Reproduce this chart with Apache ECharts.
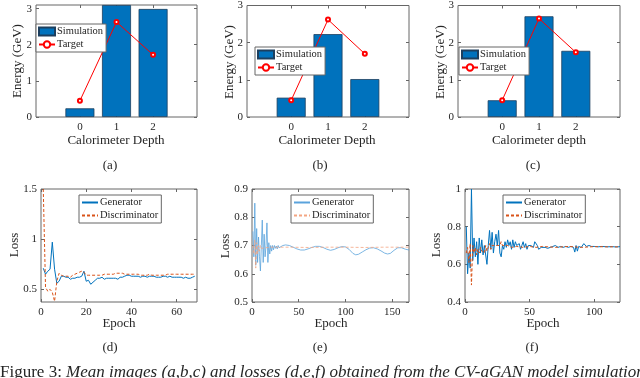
<!DOCTYPE html>
<html style='height: 100%'>
<head>
    <meta charset='utf-8'>
</head>
<body style='height: 100%; margin: 0; background: #fff'>
    <div id='container' style='width: 640px; height: 378px'></div>
    <script type='text/javascript' src='https://cdn.jsdelivr.net/npm/echarts@6/dist/echarts.min.js'></script>
    <script type="text/javascript">
// ---- data ----
var depth = [0, 1, 2];
var simA = [0.24, 3.1, 2.99];
var targetA = [0.45, 2.63, 1.72];
var simB = [0.52, 2.23, 1.02];
var targetB = [0.45, 2.62, 1.70];
var simC = [0.45, 2.71, 1.78];
var targetC = [0.45, 2.65, 1.74];

// (d) one value per epoch, epoch 1..68
var genD = [0.71,0.65,0.68,0.70,0.97,0.70,0.56,0.58,0.63,0.63,0.62,0.62,0.60,0.61,0.61,0.62,0.62,0.63,0.68,0.58,
    0.59,0.55,0.57,0.59,0.61,0.61,0.62,0.60,0.61,0.61,0.61,0.61,0.61,0.60,0.62,0.62,0.63,0.64,0.64,0.63,
    0.63,0.63,0.63,0.62,0.63,0.63,0.62,0.63,0.63,0.63,0.62,0.62,0.62,0.63,0.63,0.62,0.63,0.62,0.62,0.62,
    0.62,0.62,0.61,0.62,0.61,0.61,0.62,0.63];
var discD = [1.5,0.52,0.48,0.50,0.47,0.38,0.58,0.66,0.64,0.63,0.63,0.63,0.62,0.64,0.65,0.66,0.67,0.68,0.67,0.64,
    0.64,0.64,0.64,0.64,0.64,0.64,0.64,0.65,0.65,0.65,0.65,0.65,0.66,0.66,0.66,0.66,0.65,0.65,0.65,0.65,
    0.65,0.65,0.65,0.64,0.64,0.64,0.64,0.65,0.64,0.64,0.64,0.64,0.64,0.64,0.64,0.65,0.65,0.65,0.65,0.65,
    0.65,0.65,0.65,0.65,0.65,0.65,0.65,0.65];

// (e) [epoch, loss]
var genE = [[1,0.75],[2,0.66],[3,0.85],[4,0.63],[5,0.76],[6,0.64],[7,0.73],[8,0.66],[9,0.61],[10,0.70],
    [11,0.79],[12,0.64],[13,0.74],[14,0.66],[15,0.70],[16,0.78],[17,0.64],[18,0.71],[19,0.67],[20,0.70],
    [21,0.68],[22,0.70],[23,0.685],[24,0.70],[25,0.69],[26,0.698],[27,0.688],[28,0.70],[29,0.692],[30,0.698],
    [33,0.70],[36,0.702],[40,0.70],[44,0.694],[48,0.688],[52,0.684],[56,0.684],[60,0.688],[64,0.693],[68,0.697],
    [72,0.697],[76,0.693],[80,0.687],[84,0.683],[88,0.686],[92,0.692],[96,0.696],[100,0.695],[104,0.686],[108,0.672],
    [111,0.667],[114,0.669],[118,0.677],[122,0.685],[126,0.691],[130,0.692],[134,0.688],[138,0.681],[142,0.673],[145,0.67],
    [148,0.672],[152,0.683],[156,0.692],[160,0.692],[164,0.687],[168,0.684]];
var discE = [[1,0.70],[2,0.67],[3,0.72],[4,0.62],[5,0.71],[6,0.67],[7,0.70],[8,0.68],[9,0.70],[10,0.69],
    [12,0.695],[15,0.692],[20,0.694],[40,0.694],[60,0.693],[80,0.694],[100,0.694],[120,0.693],[140,0.694],[168,0.694]];

// (f) [epoch, loss]
var genF = [[1,0.80],[2,0.55],[3,0.66],[4,0.58],[5,1.00],[6,0.62],[7,0.74],[8,0.64],[9,0.72],[10,0.60],
    [11,0.74],[12,0.66],[13,0.73],[14,0.65],[15,0.70],[16,0.69],[17,0.60],[18,0.70],[19,0.78],[20,0.68],
    [21,0.77],[22,0.66],[23,0.72],[24,0.76],[25,0.70],[26,0.78],[27,0.66],[28,0.64],[29,0.70],[30,0.68],
    [31,0.72],[32,0.69],[33,0.73],[34,0.70],[35,0.72],[36,0.68],[37,0.73],[38,0.69],[39,0.72],[40,0.70],
    [41,0.69],[42,0.71],[43,0.68],[44,0.70],[45,0.72],[46,0.69],[47,0.71],[48,0.68],[49,0.70],[50,0.69],
    [51,0.70],[52,0.71],[53,0.69],[54,0.72],[55,0.73],[56,0.70],[57,0.68],[58,0.67],[59,0.69],[60,0.68],
    [62,0.69],[64,0.685],[66,0.69],[68,0.695],[70,0.70],[72,0.69],[74,0.695],[75,0.705],[76,0.69],[78,0.695],
    [80,0.69],[82,0.695],[84,0.69],[85,0.665],[86,0.70],[87,0.67],[88,0.695],[90,0.69],[92,0.71],[93,0.712],
    [94,0.695],[96,0.70],[98,0.695],[100,0.695],[103,0.693],[106,0.695],[110,0.693],[114,0.694],[117,0.692],[120,0.694]];
var discF = [[1,0.66],[2,0.69],[3,0.61],[4,0.71],[5,0.49],[6,0.70],[7,0.66],[8,0.69],[9,0.65],[10,0.68],
    [11,0.66],[12,0.69],[13,0.67],[14,0.68],[15,0.66],[16,0.70],[17,0.67],[18,0.69],[19,0.71],[20,0.68],
    [21,0.70],[22,0.69],[23,0.70],[24,0.69],[25,0.70],[26,0.69],[27,0.70],[28,0.72],[29,0.70],[30,0.69],
    [33,0.70],[36,0.69],[40,0.695],[45,0.69],[50,0.695],[55,0.69],[60,0.695],[70,0.69],[80,0.695],[90,0.69],
    [100,0.694],[110,0.693],[120,0.693]];

// axis ranges and ticks
var depthTicks = [0, 1, 2];
var energyTicks = [0, 1, 2, 3];
var epochTicksD = [0, 20, 40, 60];
var epochTicksE = [0, 50, 100, 150];
var epochTicksF = [0, 50, 100];
var lossTicksD = [0.5, 1, 1.5];
var lossTicksE = [0.5, 0.6, 0.7, 0.8, 0.9];
var lossTicksF = [0.4, 0.6, 0.8, 1];

var font = 'Liberation Serif';
var ink = '#262626';

var panels = [
    {grid: {left: 36, top: 5, width: 161, height: 112}, x: [-1.2, 3.2, depthTicks], y: [0, 3.1, energyTicks]},
    {grid: {left: 247, top: 5, width: 162, height: 112}, x: [-1.2, 3.2, depthTicks], y: [0, 3, energyTicks]},
    {grid: {left: 458, top: 5, width: 162, height: 112}, x: [-1.2, 3.2, depthTicks], y: [0, 3, energyTicks]},
    {grid: {left: 41, top: 189, width: 156, height: 113}, x: [0, 69, epochTicksD], y: [0.373, 1.5, lossTicksD]},
    {grid: {left: 252, top: 189, width: 157, height: 113}, x: [0, 168, epochTicksE], y: [0.5, 0.9, lossTicksE]},
    {grid: {left: 465, top: 189, width: 155, height: 113}, x: [0, 120, epochTicksF], y: [0.4, 1, lossTicksF]}
];

var grid = [], xAxis = [], yAxis = [];
panels.forEach(function (p, i) {
    grid.push(Object.assign({show: true, borderColor: '#666', borderWidth: 1, backgroundColor: '#fff'}, p.grid));
    [false, true].forEach(function (mirror) {
        xAxis.push({
            type: 'value', gridIndex: i, min: p.x[0], max: p.x[1],
            position: mirror ? 'top' : 'bottom',
            axisLine: {show: false, onZero: false}, splitLine: {show: false},
            axisTick: {inside: true, length: 3, lineStyle: {color: '#666'}, customValues: p.x[2]},
            axisLabel: {show: !mirror, customValues: p.x[2], margin: 5, color: ink, fontFamily: font, fontSize: 11}
        });
        yAxis.push({
            type: 'value', gridIndex: i, min: p.y[0], max: p.y[1],
            position: mirror ? 'right' : 'left',
            axisLine: {show: false, onZero: false}, splitLine: {show: false},
            axisTick: {inside: true, length: 3, lineStyle: {color: '#666'}, customValues: p.y[2]},
            axisLabel: {show: !mirror, customValues: p.y[2], margin: 4, color: ink, fontFamily: font, fontSize: 11}
        });
    });
});

function pairs(arr) {
    return arr.map(function (v, i) { return [i + 1, v]; });
}
function zipDepth(arr) {
    return depth.map(function (d, i) { return [d, arr[i]]; });
}

var series = [];
[['a', simA, targetA], ['b', simB, targetB], ['c', simC, targetC]].forEach(function (s, i) {
    series.push({
        name: s[0] + ':Simulation', type: 'bar', xAxisIndex: 2 * i, yAxisIndex: 2 * i,
        data: zipDepth(s[1]), barWidth: 29,
        itemStyle: {color: '#0072BD', borderColor: '#1d3f5e', borderWidth: 0.8}
    });
    series.push({
        name: s[0] + ':Target', type: 'line', xAxisIndex: 2 * i, yAxisIndex: 2 * i,
        data: zipDepth(s[2]), symbol: 'emptyCircle', symbolSize: 4,
        lineStyle: {color: '#ff0000', width: 1}, itemStyle: {color: '#ff0000', borderWidth: 1}
    });
});
var lossSets = [
    ['d', pairs(genD), pairs(discD), '#0072BD', '#D95319', 1],
    ['e', genE, discE, '#5aa3dc', '#f4a582', 0.8],
    ['f', genF, discF, '#0072BD', '#D95319', 1]
];
lossSets.forEach(function (s, j) {
    var ax = 2 * (j + 3);
    series.push({
        name: s[0] + ':Generator', type: 'line', xAxisIndex: ax, yAxisIndex: ax,
        data: s[1], symbol: 'none', lineStyle: {color: s[3], width: s[5]}, itemStyle: {color: s[3]}
    });
    series.push({
        name: s[0] + ':Discriminator', type: 'line', xAxisIndex: ax, yAxisIndex: ax,
        data: s[2], symbol: 'none', lineStyle: {color: s[4], width: s[5], type: [3, 2]}, itemStyle: {color: s[4]}
    });
});

var legendBoxes = [
    ['a', ['Simulation', 'Target'], 36, 24, true],
    ['b', ['Simulation', 'Target'], 255, 47, true],
    ['c', ['Simulation', 'Target'], 459, 47, true],
    ['d', ['Generator', 'Discriminator'], 79, 195, false],
    ['e', ['Generator', 'Discriminator'], 291, 195, false],
    ['f', ['Generator', 'Discriminator'], 503, 195, false]
];
var legend = legendBoxes.map(function (l) {
    var lg = {
        left: l[2], top: l[3], orient: 'vertical',
        data: l[1].map(function (n) {
            var item = {name: l[0] + ':' + n};
            if (n === 'Simulation') item.icon = 'rect';
            return item;
        }),
        formatter: function (n) { return n.slice(2); },
        itemWidth: 16, itemHeight: 8, itemGap: 2, padding: [2, 3, 2, 2],
        backgroundColor: '#fff', borderColor: '#666', borderWidth: 1,
        textStyle: {fontFamily: font, fontSize: 10.5, color: ink, padding: [0, 0, 0, -3]},
        selectedMode: false
    };
    if (!l[4]) lg.itemStyle = {opacity: 0};
    return lg;
});

function label(text, x, y, size, rotate) {
    return {
        type: 'text', x: x, y: y, rotation: rotate ? Math.PI / 2 : 0,
        style: {text: text, fontFamily: font, fontSize: size, fill: ink, align: 'center', verticalAlign: 'middle'}
    };
}
var graphic = [
    label('Energy (GeV)', 18, 61, 13, true),
    label('Energy (GeV)', 230, 62, 13, true),
    label('Energy (GeV)', 441, 62, 13, true),
    label('Calorimeter Depth', 116, 141, 13),
    label('Calorimeter Depth', 327, 141, 13),
    label('Calorimeter depth', 539, 141, 13),
    label('(a)', 110, 166, 13),
    label('(b)', 320, 166, 13),
    label('(c)', 533, 166, 13),
    label('Loss', 15, 245, 13, true),
    label('Loss', 226, 246, 13, true),
    label('Loss', 437, 245, 13, true),
    label('Epoch', 119, 324, 13),
    label('Epoch', 331, 324, 13),
    label('Epoch', 543, 324, 13),
    label('(d)', 110, 348, 13),
    label('(e)', 320, 348, 13),
    label('(f)', 532, 348, 13),
    {
        type: 'text', x: 0, y: 364.5,
        style: {
            text: '{n|Figure 3:} {i|Mean images (a,b,c) and losses (d,e,f) obtained from the CV-aGAN model simulation}',
            fontFamily: font, fontSize: 17, fill: ink, verticalAlign: 'top',
            rich: {n: {fontFamily: font, fontSize: 17}, i: {fontFamily: font, fontSize: 17, fontStyle: 'italic'}}
        }
    }
];

var dom = document.getElementById("container");
var myChart = echarts.init(dom);
var option = {
    animation: false,
    grid: grid,
    xAxis: xAxis,
    yAxis: yAxis,
    legend: legend,
    series: series,
    graphic: graphic
};
myChart.setOption(option, true);
    </script>
</body>
</html>
